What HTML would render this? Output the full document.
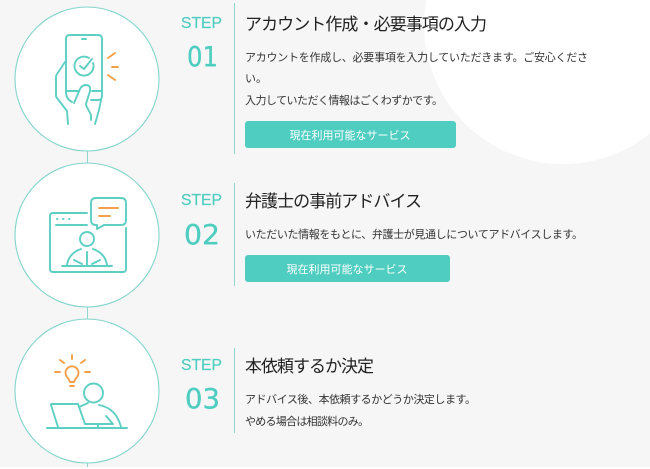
<!DOCTYPE html>
<html lang="ja"><head><meta charset="utf-8">
<style>
html,body{margin:0;padding:0;background:#f6f6f6;width:650px;height:469px;overflow:hidden}
svg{display:block}
.step{font-family:"Liberation Sans",sans-serif;font-size:15.5px;fill:#4ecdc0;stroke:#4ecdc0;stroke-width:.2}
.num{font-family:"DejaVu Sans",sans-serif;font-size:27.5px;fill:#4ecdc0;stroke:#4ecdc0;stroke-width:.3}
.h{font-family:"Liberation Sans","Noto Sans CJK JP",sans-serif;font-size:17px;fill:#222}
.p{font-family:"Liberation Sans","Noto Sans CJK JP",sans-serif;font-size:11px;fill:#333}
.b{font-family:"Liberation Sans","Noto Sans CJK JP",sans-serif;font-size:11px;fill:#fff;text-anchor:middle}
.t{fill:none;stroke:#5dcfc3;stroke-width:1.9;stroke-linecap:round;stroke-linejoin:round}
.o{fill:none;stroke:#f2a04a;stroke-width:1.9;stroke-linecap:round;stroke-linejoin:round}
</style></head><body>
<svg width="650" height="469" viewBox="0 0 650 469" xmlns="http://www.w3.org/2000/svg">
<rect width="650" height="469" fill="#f6f6f6"/>
<circle cx="563" cy="25" r="139" fill="#fff"/>
<rect y="467" width="650" height="2" fill="#fff"/>
<line x1="87.5" y1="150" x2="87.5" y2="467" stroke="#8fd6cd" stroke-width="1"/>
<g fill="#fff" stroke="#83d5cb" stroke-width="1.1">
<circle cx="87" cy="79" r="72"/><circle cx="87" cy="235" r="72"/><circle cx="87" cy="391" r="72"/>
</g>

<!-- Icon 1 -->
<path class="t" d="M66 92V39q0-4 4-4h28q4 0 4 4v57q0 4-4 4H91M66 91h12M92 91h10M66 92q0 7 6 10"/>
<path class="t" d="M65 62l-8 12q-1 1-1 3v19q0 1 1 2l10 13 1 13M101 100l-2 10-4 14"/>
<path class="t" d="M74 103l6-14q2-4 6-4 5 0 4 6l-4 13q0 2 2 5l3 6 0 5"/>
<path class="t" d="M82 39h4"/>
<path class="t" d="M93 63a9.500 9.500 0 1 1-4-5M80 66l4 3 8-10"/>
<path class="o" d="M108 58l7-5M112 67h6M108 75l7 5"/>

<!-- Icon 2 -->
<path class="t" d="M87 213H53q-3 0-3 3v53q0 3 3 3h70q3 0 3-3v-41"/>
<path class="t" d="M56 225h31"/>
<path class="t" d="M96 198h25q5 0 5 5v17q0 5-5 5h-17l-7 4v-4h-1q-5 0-5-5v-17q0-5 5-5z"/>
<path class="o" d="M99 208h19M99 216h11"/>
<path class="t" d="M57 219h.5M63 219h.5M69 219h.5"/>
<circle class="t" cx="87" cy="239" r="7"/>
<path class="t" d="M62 266h50M67 265q2-12 14-16M93 249q12 4 14 16M87 252v13M74 260l8 4M100 260l-8 4"/>

<!-- Icon 3 -->
<path class="o" d="M72 355v4M60 360l4 3M85 360l-4 3M55 372h5M85 372h5M70 382q-1-3-3-5a6.500 6.500 0 1 1 10 0q-2 2-3 5zM70 386h4"/>
<circle class="t" cx="93.500" cy="393" r="9.500"/>
<path class="t" d="M47 428h80M51 405l7 22M51 404h27l7 20h28l-7-8 2 2M79 407l9-4M99 405q17 3 22 22M98 424v3"/>

<!-- Step 1 -->
<text class="step" x="181" y="28" textLength="41" lengthAdjust="spacingAndGlyphs">STEP</text>
<text class="num" x="187" y="66" textLength="31" lengthAdjust="spacingAndGlyphs">01</text>
<line x1="234.500" y1="3" x2="234.500" y2="154" stroke="#8fd6cd"/>
<text class="h" x="245" y="30" textLength="242">アカウント作成・必要事項の入力</text>
<text class="p" x="245" y="61" textLength="343">アカウントを作成し、必要事項を入力していただきます。ご安心くださ</text>
<text class="p" x="245" y="82">い。</text>
<text class="p" x="245" y="104" textLength="198">入力していただく情報はごくわずかです。</text>
<rect x="245" y="121" width="211" height="27" rx="3" fill="#4ecdc0"/>
<text class="b" x="350" y="139">現在利用可能なサービス</text>

<!-- Step 2 -->
<text class="step" x="181" y="205" textLength="41" lengthAdjust="spacingAndGlyphs">STEP</text>
<text class="num" x="184" y="244" textLength="36" lengthAdjust="spacingAndGlyphs">02</text>
<line x1="234.500" y1="183" x2="234.500" y2="286" stroke="#8fd6cd"/>
<text class="h" x="245" y="207" textLength="177">弁護士の事前アドバイス</text>
<text class="p" x="245" y="238" textLength="338">いただいた情報をもとに、弁護士が見通しについてアドバイスします。</text>
<rect x="245" y="255" width="205" height="27" rx="3" fill="#4ecdc0"/>
<text class="b" x="347" y="273">現在利用可能なサービス</text>

<!-- Step 3 -->
<text class="step" x="181" y="370" textLength="41" lengthAdjust="spacingAndGlyphs">STEP</text>
<text class="num" x="185" y="408" textLength="35" lengthAdjust="spacingAndGlyphs">03</text>
<line x1="234.500" y1="348" x2="234.500" y2="433" stroke="#8fd6cd"/>
<text class="h" x="245" y="372" textLength="129">本依頼するか決定</text>
<text class="p" x="245" y="403" textLength="231">アドバイス後、本依頼するかどうか決定します。</text>
<text class="p" x="245" y="425" textLength="124">やめる場合は相談料のみ。</text>
</svg>
</body></html>
